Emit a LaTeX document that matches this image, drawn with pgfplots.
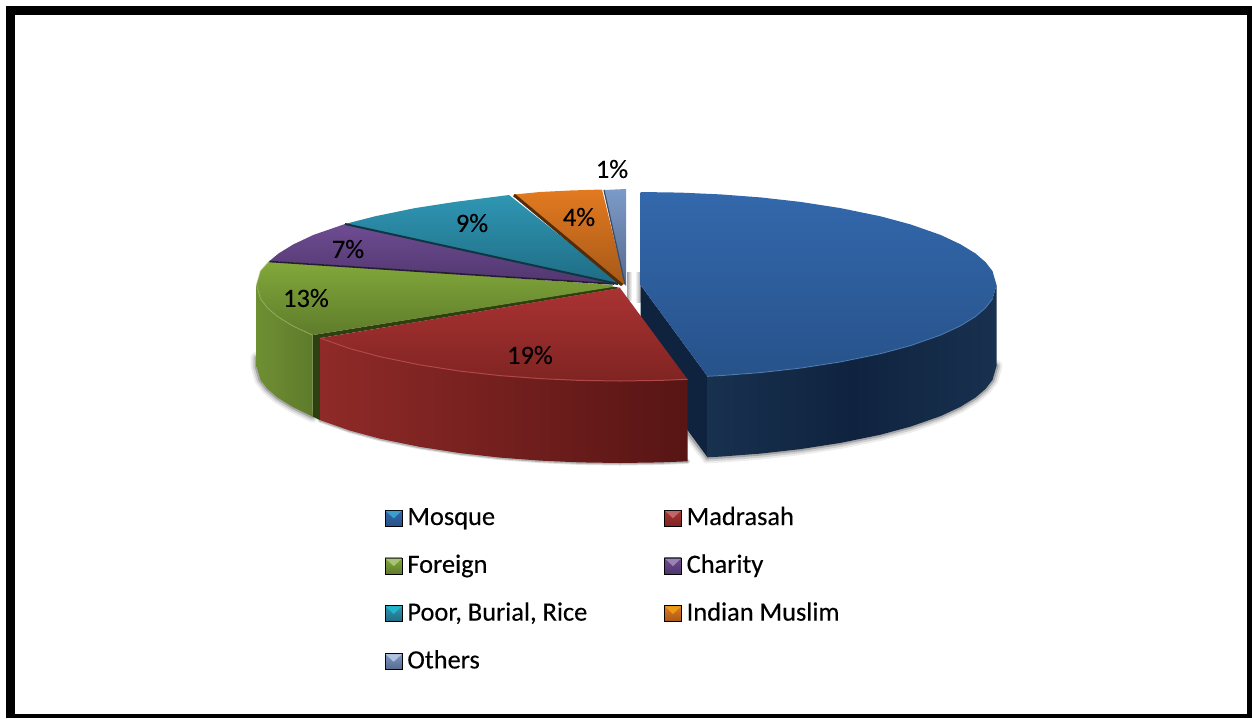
\documentclass[border=0pt]{standalone}
\usepackage{pgfplots}
\usepackage{pgfplotstable}
\usepackage{fontspec}
\pgfplotsset{compat=1.18}
\setmainfont{Carlito}[RawFeature={embolden=0.25}]

% --- slice outlines, in picture units (y grows downward) ---
\pgfplotstableread{
x y
640.5 192
680.5 192.6
720.5 194.4
760.5 197.4
800.5 201.9
840.5 208.1
880.5 216.3
910.5 224.4
940.5 234.9
960.5 244.3
975.5 253.5
985.5 262.1
992.5 271.1
996.5 285
992.5 298.9
985.5 307.9
975.5 316.5
960.5 325.8
940.5 335.1
910.5 345.6
880.5 353.7
840.5 361.9
800.5 368.1
760.5 372.6
720.5 375.6
707.5 376.3
640.5 285
}\mosqueTop
\pgfplotstableread{
x y
996.5 285
992.5 298.9
985.5 307.9
975.5 316.5
960.5 325.8
940.5 335.1
910.5 345.6
880.5 353.7
840.5 361.9
800.5 368.1
760.5 372.6
720.5 375.6
707.5 376.3
707.5 457.3
720.5 456.6
760.5 453.6
800.5 449.1
840.5 442.9
880.5 434.7
910.5 426.6
940.5 416.1
960.5 406.8
975.5 397.5
985.5 388.9
992.5 379.9
996.5 366
}\mosqueWall
\pgfplotstableread{
x y
996.5 366
992.5 379.9
985.5 388.9
975.5 397.5
960.5 406.8
940.5 416.1
910.5 426.6
880.5 434.7
840.5 442.9
800.5 449.1
760.5 453.6
720.5 456.6
707.5 457.3
688 432
}\mosqueBase
\pgfplotstableread{
x y
992.5 298.9
985.5 307.9
975.5 316.5
960.5 325.8
940.5 335.1
910.5 345.6
880.5 353.7
840.5 361.9
800.5 368.1
760.5 372.6
720.5 375.6
707.5 376.3
}\mosqueRim
\pgfplotstableread{
x y
620 288
687.5 379.3
660 380.4
620 381
580 380.4
540 378.6
500 375.6
460 371.1
420 364.9
380 356.7
350 348.6
320 338.1
}\madrasahTop
\pgfplotstableread{
x y
320 338.1
350 348.6
380 356.7
420 364.9
460 371.1
500 375.6
540 378.6
580 380.4
620 381
660 380.4
687.5 379.3
687.5 461.3
660 462.4
620 463
580 462.4
540 460.6
500 457.6
460 453.1
420 446.9
380 438.7
350 430.6
320 420.1
}\madrasahWall
\pgfplotstableread{
x y
320 420.1
350 430.6
380 438.7
420 446.9
460 453.1
500 457.6
540 460.6
580 462.4
620 463
660 462.4
687.5 461.3
}\madrasahBase
\pgfplotstableread{
x y
320 338.1
350 348.6
380 356.7
420 364.9
460 371.1
500 375.6
540 378.6
580 380.4
620 381
660 380.4
687.5 379.3
}\madrasahRim
\pgfplotstableread{
x y
612.7 285
269.5 261
260.5 271.1
256.5 285
260.5 298.9
267.5 307.9
277.5 316.5
292.5 325.8
312.5 335.1
612.7 287
}\foreignTop
\pgfplotstableread{
x y
256.5 285
260.5 298.9
267.5 307.9
277.5 316.5
292.5 325.8
312.5 335.1
312.5 416.5
292.5 406.8
277.5 397.5
267.5 388.9
260.5 379.9
256.5 366
}\foreignWall
\pgfplotstableread{
x y
256.5 358
256.5 366
260.5 379.9
267.5 388.9
277.5 397.5
292.5 406.8
312.5 416.5
}\foreignBase
\pgfplotstableread{
x y
269.5 261
260.5 271.1
256.5 285
260.5 298.9
267.5 307.9
277.5 316.5
292.5 325.8
312.5 335.1
}\foreignRim
\pgfplotstableread{
x y
312.5 335.1
612.7 286.5
621 288
320 338.1
320 420.1
312.5 416.5
}\foreignCut
\pgfplotstableread{
x y
269.5 261
278.5 253.5
293.5 244.3
313.5 234.9
345 224
617 281
615 284
}\charityTop
\pgfplotstableread{
x y
345 224
375 216.3
415 208.1
455 201.9
509 195
620 283
617 284.5
}\poorTop
\pgfplotstableread{
x y
514 194.5
540 192
570 190.5
602 189.5
625 283
622 285.5
}\indianTop
\pgfplotstableread{
x y
604 190
626 189
626 286
624 284
}\othersTop

% --- colours ---
\definecolor{mosqueA}{HTML}{3368AC}
\definecolor{mosqueB}{HTML}{27528A}
\definecolor{mosqueW}{HTML}{18314F}
\definecolor{mosqueD}{HTML}{0F233F}
\definecolor{madrasahA}{HTML}{AA3333}
\definecolor{madrasahB}{HTML}{7F2422}
\definecolor{madrasahW}{HTML}{8F2A28}
\definecolor{madrasahD}{HTML}{571514}
\definecolor{foreignA}{HTML}{82A83B}
\definecolor{foreignB}{HTML}{5F7C2B}
\definecolor{foreignW}{HTML}{6F8F33}
\definecolor{foreignD}{HTML}{5E7B2B}
\definecolor{foreignC}{HTML}{2E3F10}
\definecolor{charityA}{HTML}{6E4C93}
\definecolor{charityB}{HTML}{50366D}
\definecolor{poorA}{HTML}{2F96B3}
\definecolor{poorB}{HTML}{1F6C84}
\definecolor{indianA}{HTML}{E27A20}
\definecolor{indianB}{HTML}{A65818}
\definecolor{othersA}{HTML}{7C9AC8}
\definecolor{othersB}{HTML}{566A8C}

% bevelled square used as legend key
\pgfplotsset{
  legkey/.style n args={3}{
    legend image code/.code={
      \shade[top color=#1, bottom color=#2] (0pt,-7pt) rectangle (17pt,9pt);
      \fill[#3] (1pt,8pt) -- (16pt,8pt) -- (8.5pt,1pt) -- cycle;
    }
  },
}

\begin{document}
\begin{tikzpicture}
\begin{axis}[
  scale only axis, width=1252pt, height=718pt,
  xmin=0, xmax=1252, ymin=0, ymax=718, y dir=reverse,
  hide axis, clip=false,
  legend columns=2,
  legend cell align=left,
  legend style={
    draw=none, fill=none,
    at={(axis cs:385,507)}, anchor=north west,
    inner sep=0pt, outer sep=0pt,
    font=\fontsize{26.4}{30}\selectfont,
    nodes={inner sep=0pt, text height=18pt, text depth=6pt},
    /tikz/column 2/.style={column sep=77pt},
    /tikz/column 1/.style={column sep=5pt},
    /tikz/column 3/.style={column sep=5pt},
    row sep=23.8pt,
  },
]
% legend, in two columns
\addlegendimage{legkey={mosqueA}{mosqueB}{mosqueA!70!cyan!90!white}}
\addlegendentry{Mosque}
\addlegendimage{legkey={madrasahA}{madrasahB}{madrasahA!75!white}}
\addlegendentry{Madrasah}
\addlegendimage{legkey={foreignA}{foreignB}{foreignA!70!white}}
\addlegendentry{Foreign}
\addlegendimage{legkey={charityA}{charityB}{charityA!70!white}}
\addlegendentry{Charity}
\addlegendimage{legkey={poorA}{poorB}{poorA!70!cyan}}
\addlegendentry{Poor, Burial, Rice}
\addlegendimage{legkey={indianA}{indianB}{indianA!75!yellow}}
\addlegendentry{Indian Muslim}
\addlegendimage{legkey={othersA}{othersB}{othersA!60!white}}
\addlegendentry{Others}

% page and frame
\addplot[fill=white, draw=none] coordinates {(0,0) (1252,0) (1252,718) (0,718)};
\addplot[fill=black, draw=none] coordinates {(6,6) (1252,6) (1252,718) (6,718)};
\addplot[fill=white, draw=none] coordinates {(15,15) (1247,15) (1247,714) (15,714)};

% soft shadow below the pie
\pgfplotsset{
  shadowA/.style={draw=black, opacity=0.07, line width=12pt, line cap=round},
  shadowB/.style={draw=black, opacity=0.12, line width=8pt, line cap=round},
  shadowC/.style={draw=black, opacity=0.20, line width=4pt, line cap=round},
}
\addplot[shadowA] table {\mosqueBase};
\addplot[shadowB] table {\mosqueBase};
\addplot[shadowC] table {\mosqueBase};
\addplot[shadowB, line width=5pt] table {\madrasahBase};
\addplot[shadowC, line width=3pt] table {\madrasahBase};
\addplot[shadowA] table {\foreignBase};
\addplot[shadowB] table {\foreignBase};
\addplot[shadowC] table {\foreignBase};

% shadow in the gap at the centre
\addplot[left color=black!35, right color=white, draw=none] coordinates {(627,272) (632,272) (632,300) (627,300)};
\addplot[left color=white, right color=black!35, draw=none] coordinates {(635,272) (640.5,272) (640.5,302) (635,302)};

% Mosque
\addplot[fill=mosqueD, draw=none] coordinates {(640.5,285) (707.5,376.3) (707.5,457.3) (640.5,366)};
\addplot[left color=mosqueW, right color=mosqueW, middle color=mosqueD, draw=none] table {\mosqueWall};
\addplot[top color=mosqueA, bottom color=mosqueB, draw=none] table {\mosqueTop};
\addplot[draw=mosqueA!85!white, line width=1pt, opacity=0.7] table {\mosqueRim};

% Foreign
\addplot[fill=foreignC, draw=none] table {\foreignCut};
\addplot[left color=foreignW, right color=foreignD, draw=none] table {\foreignWall};
\addplot[top color=foreignA, bottom color=foreignB, draw=none] table {\foreignTop};
\addplot[draw=foreignA!80!white, line width=1pt, opacity=0.6] table {\foreignRim};

% Madrasah
\addplot[left color=madrasahW, right color=madrasahD, draw=none] table {\madrasahWall};
\addplot[top color=madrasahA, bottom color=madrasahB, draw=none] table {\madrasahTop};
\addplot[draw=madrasahA!90!white, line width=1pt] table {\madrasahRim};

% Charity
\addplot[top color=charityA, bottom color=charityB, draw=none] table {\charityTop};
\addplot[draw=charityB!50!black, line width=1.6pt] coordinates {(269.5,261.5) (614,284)};

% Poor, Burial, Rice
\addplot[top color=poorA, bottom color=poorB, draw=none] table {\poorTop};
\addplot[draw=poorB!50!black, line width=2pt] coordinates {(345,224) (618,284)};

% Indian Muslim
\addplot[top color=indianA, bottom color=indianB, draw=none] table {\indianTop};
\addplot[draw=indianB!50!black, line width=3pt] coordinates {(514,195) (622,285)};

% Others
\addplot[top color=othersA, bottom color=othersB, draw=none] table {\othersTop};
\addplot[draw=othersB!70!black, line width=1.2pt] coordinates {(604,190) (625,284)};

% percentage labels
\begin{scope}[every node/.style={font=\fontsize{26.4}{30}\selectfont, text=black}]
\node at (axis cs:612,169) {1\%};
\node at (axis cs:579,217) {4\%};
\node at (axis cs:472,223) {9\%};
\node at (axis cs:348,249) {7\%};
\node at (axis cs:306,298) {13\%};
\node at (axis cs:530,355) {19\%};
\end{scope}
\end{axis}
\end{tikzpicture}
\end{document}
